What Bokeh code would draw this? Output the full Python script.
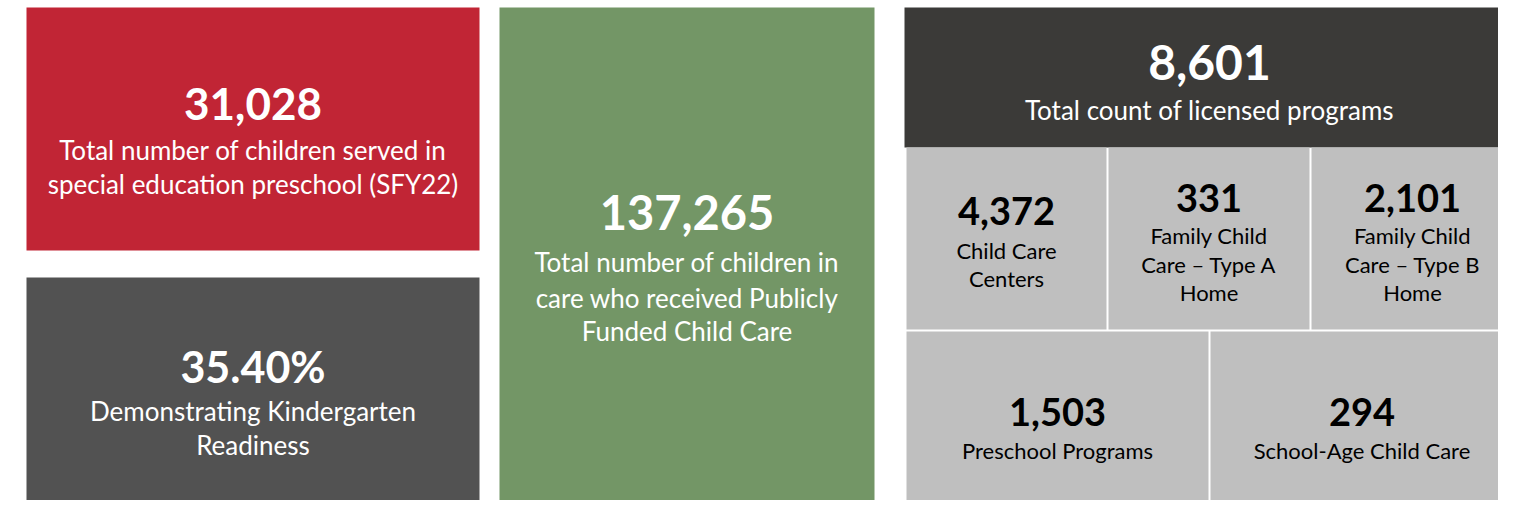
from bokeh.plotting import figure
from bokeh.models import Range1d, ColumnDataSource
from bokeh.core.properties import value
from bokeh.embed import file_html
from bokeh.resources import INLINE

# ---------------- data ----------------
headline_values = ["31,028", "35.40%", "137,265"]
headline_labels = [
    ["Total number of children served in", "special education preschool (SFY22)"],
    ["Demonstrating Kindergarten", "Readiness"],
    ["Total number of children in", "care who received Publicly", "Funded Child Care"],
]
total_value = "8,601"
total_label = ["Total count of licensed programs"]
program_values = ["4,372", "331", "2,101", "1,503", "294"]
program_labels = [
    ["Child Care", "Centers"],
    ["Family Child", "Care \u2013 Type A", "Home"],
    ["Family Child", "Care \u2013 Type B", "Home"],
    ["Preschool Programs"],
    ["School-Age Child Care"],
]

# ---------------- layout (screen pixels) ----------------
# (left, right, top, bottom, number centre y, label centre ys)
headline_boxes = [
    (26, 479, 7, 250, 103, [149, 183]),
    (26, 479, 277, 516, 366, [410, 444]),
    (499, 874, 7, 516, 212, [261, 297, 330]),
]
headline_num_sizes = ["44px", "43px", "47px"]
headline_colors = ["#C12535", "#525252", "#739666"]
total_box = (904, 1514, 7, 147, 62, [109])
total_color = "#3B3A38"
program_boxes = [
    (906, 1106, 147, 329, 210, [250, 278]),
    (1108, 1309, 147, 329, 197, [235, 264, 292]),
    (1311, 1513, 147, 329, 197, [235, 264, 292]),
    (906, 1208, 331, 516, 411, [450]),
    (1210, 1513, 331, 516, 411, [450]),
]
program_color = "#BFBFBF"

FONT = "Lato"

p = figure(width=1498, height=500,
           x_range=Range1d(0, 1498), y_range=Range1d(500, 0),
           output_backend="svg", toolbar_location=None,
           x_axis_type=None, y_axis_type=None, min_border=0,
           outline_line_color=None, background_fill_color="white",
           border_fill_color="white")
p.grid.visible = False


def add_tiles(boxes, colors, values, labels, num_sizes, lab_size, txt_color):
    src = ColumnDataSource(dict(
        left=[b[0] for b in boxes], right=[b[1] for b in boxes],
        top=[b[2] for b in boxes], bottom=[b[3] for b in boxes],
        color=colors))
    p.quad(left="left", right="right", top="top", bottom="bottom",
           fill_color="color", line_color=None, source=src)
    for b, v, labs, ns in zip(boxes, values, labels, num_sizes):
        cx = (b[0] + b[1]) / 2
        p.text(x=[cx], y=[b[4]], text=[v], text_align="center",
               text_baseline="middle", text_font=value(FONT),
               text_font_style="bold", text_font_size=value(ns),
               text_color=txt_color)
        p.text(x=[cx] * len(labs), y=b[5][:len(labs)], text=labs,
               text_align="center", text_baseline="middle",
               text_font=value(FONT), text_font_size=value(lab_size),
               text_color=txt_color)


add_tiles(headline_boxes, headline_colors, headline_values, headline_labels,
          headline_num_sizes, "26px", "white")
add_tiles([total_box], [total_color], [total_value], [total_label],
          ["48px"], "26px", "white")
add_tiles(program_boxes, [program_color] * len(program_boxes), program_values,
          program_labels, ["38px"] * len(program_boxes), "22px", "black")

open("out.html", "w").write(file_html(p, INLINE))
